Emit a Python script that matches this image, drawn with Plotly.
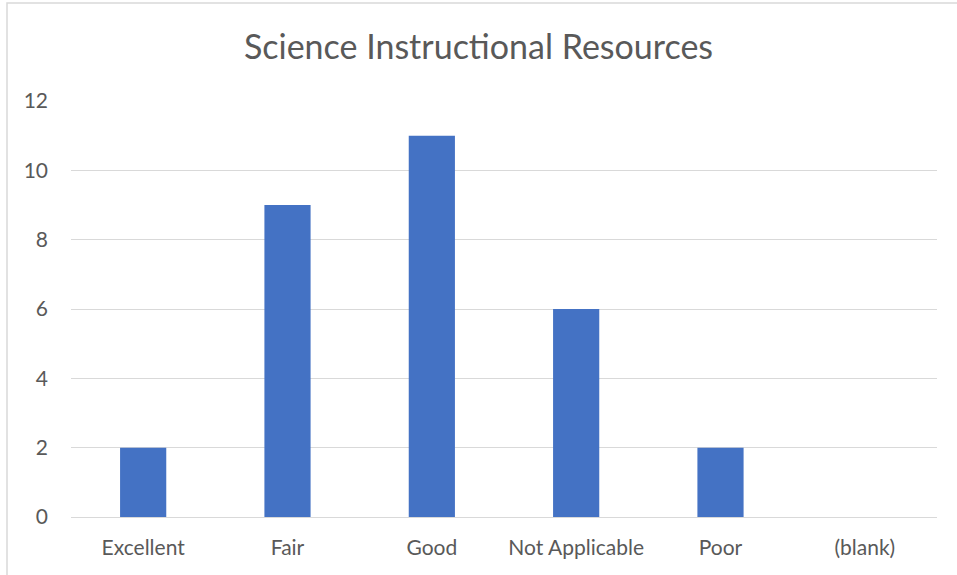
import plotly.graph_objects as go

categories = ["Excellent", "Fair", "Good", "Not Applicable", "Poor", "(blank)"]
counts = [2, 9, 11, 6, 2, 0]
y_ticks = [0, 2, 4, 6, 8, 10, 12]

fig = go.Figure(go.Bar(x=categories, y=counts, marker_color="#4472C4", marker_line_width=0))

L, R, T, B = 71, 20, 101, 58
W, H = 957, 575
pw, ph = W - L - R, H - T - B

fig.update_layout(
    width=W, height=H,
    margin=dict(l=L, r=R, t=T, b=B),
    paper_bgcolor="white", plot_bgcolor="white",
    bargap=0.68,
    font=dict(family="Lato, Open Sans, sans-serif", color="#595959", size=21),
    title=dict(text="Science Instructional Resources", x=0.5, xanchor="center",
               y=1 - 47 / H, yanchor="middle", font=dict(size=34, color="#595959")),
    showlegend=False,
)
fig.update_xaxes(showgrid=False, showline=True, linecolor="#d9d9d9", linewidth=1,
                 ticks="", ticklabelstandoff=12, tickfont=dict(size=21))
fig.update_yaxes(range=[0, 12], tickvals=y_ticks, showgrid=True, gridcolor="#d9d9d9",
                 gridwidth=1, zeroline=False, ticks="", ticklabelstandoff=22,
                 tickfont=dict(size=21))
# chart border
fig.add_shape(type="rect", xref="paper", yref="paper",
              x0=(7 - L) / pw, x1=(W + 5 - L) / pw,
              y0=(H - B - (H + 5)) / ph, y1=(H - B - 3) / ph,
              line=dict(color="#d9d9d9", width=1.5), fillcolor="rgba(0,0,0,0)", layer="below")

fig.write_html("out.html", config={"displayModeBar": False},
               post_script="document.body.style.margin='0';")
